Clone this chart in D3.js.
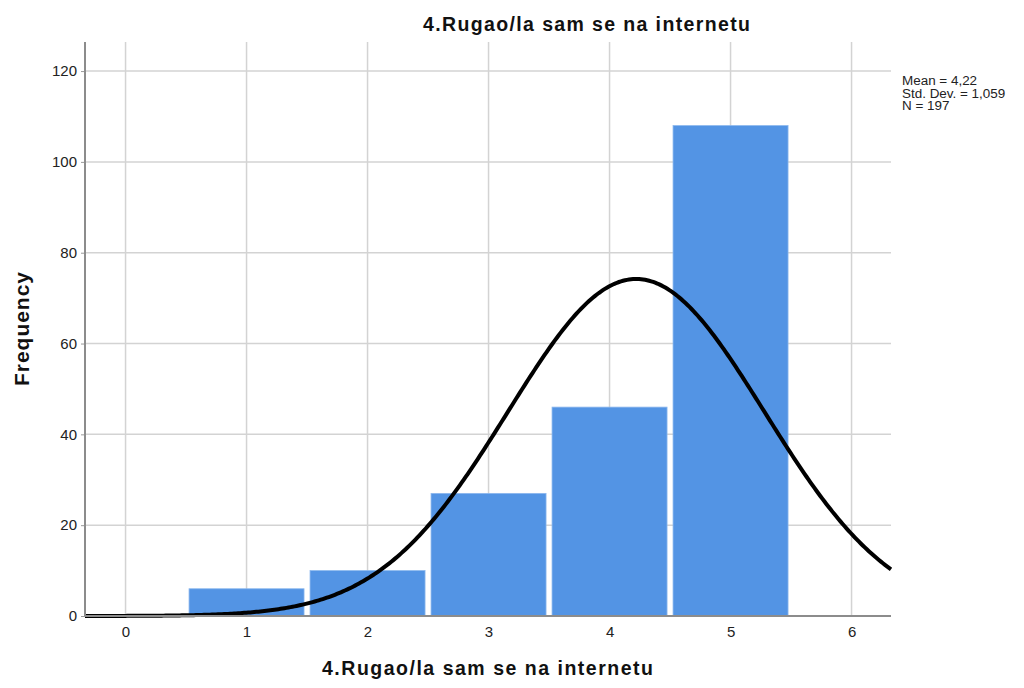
<!DOCTYPE html>
<html><head><meta charset="utf-8">
<script src="https://cdn.jsdelivr.net/npm/d3@7"></script>
<style>body{margin:0;background:#fff}svg{display:block}text{font-family:"Liberation Sans",Arial,sans-serif}</style>
</head><body>
<svg id="c" width="1024" height="688"></svg>
<script>
const categories = [1, 2, 3, 4, 5];
const frequencies = [6, 10, 27, 46, 108];
const xTicks = [0, 1, 2, 3, 4, 5, 6];
const yTicks = [0, 20, 40, 60, 80, 100, 120];
const statLabels = ["Mean = 4,22", "Std. Dev. = 1,059", "N = 197"];
const stats = {mean: 4.22, sd: 1.059, n: 197};
const title = "4.Rugao/la sam se na internetu";

const svg = d3.select("#c");
const L = 85, R = 891, T = 42, B = 616;
const x = d3.scaleLinear().domain([-0.335, 6.326]).range([L, R]);
const y = d3.scaleLinear().domain([0, 126.4]).range([B, T]);

// grid
const g = svg.append("g");
g.selectAll("line.gx").data(xTicks).join("line")
  .attr("x1", d => x(d)).attr("x2", d => x(d)).attr("y1", T).attr("y2", B)
  .attr("stroke", "#d3d3d3").attr("stroke-width", 1.5);
g.selectAll("line.gy").data(yTicks.filter(d => d > 0)).join("line")
  .attr("x1", L).attr("x2", R).attr("y1", d => y(d)).attr("y2", d => y(d))
  .attr("stroke", "#d3d3d3").attr("stroke-width", 1.5);

// bars
svg.append("g").selectAll("rect").data(categories).join("rect")
  .attr("x", (d) => x(d - 0.5) + 3)
  .attr("width", (d) => x(d + 0.5) - x(d - 0.5) - 6)
  .attr("y", (d, i) => y(frequencies[i]))
  .attr("height", (d, i) => B - y(frequencies[i]))
  .attr("fill", "#5394e4")
  .attr("stroke", "#8cb8ee").attr("stroke-width", 0.8);

// normal curve
const pts = d3.range(0, 401).map(i => {
  const xv = x.domain()[0] + (x.domain()[1] - x.domain()[0]) * i / 400;
  const z = (xv - stats.mean) / stats.sd;
  return [xv, stats.n / (stats.sd * Math.sqrt(2 * Math.PI)) * Math.exp(-0.5 * z * z)];
});
svg.append("path").datum(pts)
  .attr("d", d3.line().x(d => x(d[0])).y(d => y(d[1])))
  .attr("fill", "none").attr("stroke", "#000").attr("stroke-width", 4);

// axes
const ya = svg.append("g").attr("transform", `translate(${L},0)`)
  .call(d3.axisLeft(y).tickValues(yTicks).tickSize(4).tickPadding(4).tickFormat(d3.format("d")));
ya.select(".domain").remove();
ya.selectAll("line").attr("stroke", "#999");
ya.selectAll("text").attr("font-size", 15).attr("fill", "#222");
svg.append("line").attr("x1", L).attr("x2", L).attr("y1", T).attr("y2", B)
  .attr("stroke", "#8c8c8c").attr("stroke-width", 2);

const xa = svg.append("g").attr("transform", `translate(0,${B})`)
  .call(d3.axisBottom(x).tickValues(xTicks).tickSize(0).tickPadding(10).tickFormat(d3.format("d")));
xa.select(".domain").remove();
xa.selectAll("text").attr("font-size", 15).attr("fill", "#222");
svg.append("line").attr("x1", L).attr("x2", R).attr("y1", B).attr("y2", B)
  .attr("stroke", "#8c8c8c").attr("stroke-width", 2);

// titles
svg.append("text").attr("x", 586.5).attr("y", 31).attr("text-anchor", "middle")
  .attr("font-size", 19.5).attr("font-weight", "bold").attr("fill", "#111")
  .attr("textLength", 327).attr("lengthAdjust", "spacing").text(title);
svg.append("text").attr("x", 487.5).attr("y", 675).attr("text-anchor", "middle")
  .attr("font-size", 19.5).attr("font-weight", "bold").attr("fill", "#111")
  .attr("textLength", 331).attr("lengthAdjust", "spacing").text(title);
svg.append("text").attr("transform", `translate(29,${(T + B) / 2}) rotate(-90)`).attr("text-anchor", "middle")
  .attr("font-size", 21).attr("font-weight", "bold").attr("fill", "#111")
  .attr("textLength", 114).attr("lengthAdjust", "spacing").text("Frequency");

// stats
svg.append("g").selectAll("text").data(statLabels).join("text")
  .attr("x", 902).attr("y", (d, i) => 85 + i * 12.6)
  .attr("font-size", 12).attr("fill", "#222").text(d => d)
  .each(function() {
    const w = this.getComputedTextLength();
    d3.select(this).attr("textLength", w * 1.12).attr("lengthAdjust", "spacingAndGlyphs");
  });
</script>
</body></html>
